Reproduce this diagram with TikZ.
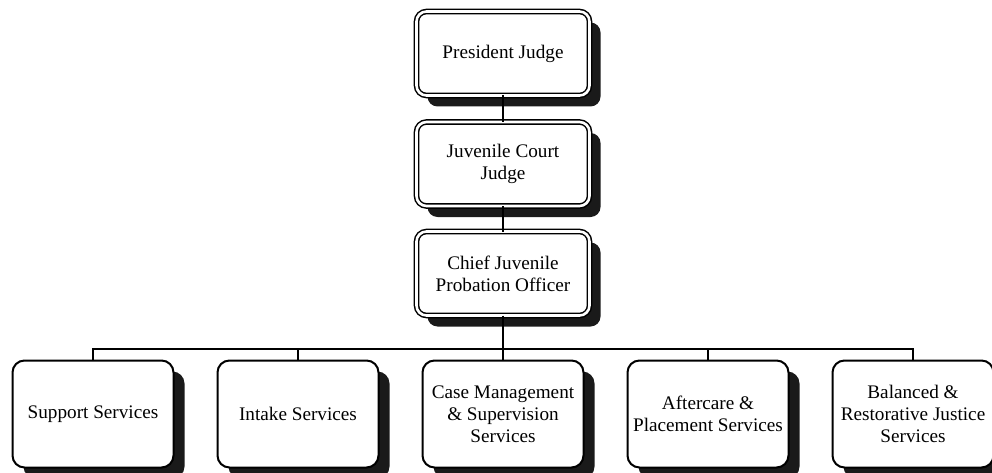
\documentclass[tikz,border=0pt]{standalone}
\usepackage{fontspec}
\setmainfont{Liberation Serif}
\usetikzlibrary{shadows}
\definecolor{shade}{HTML}{1A1A1A}
\begin{document}
\begin{tikzpicture}[x=1pt,y=-1pt,
  every node/.style={font=\fontsize{19.2}{22}\selectfont, align=center, inner sep=0pt, outer sep=0pt},
  boxshadow/.style={drop shadow={shadow xshift=11pt, shadow yshift=-11pt, fill=shade, opacity=1}},
  headbox/.style={draw=black, fill=white, double=white, line width=1.5pt, double distance=2.6pt,
    rounded corners=10pt, minimum width=173pt, minimum height=84pt, boxshadow},
  unitbox/.style={draw=black, fill=white, line width=2pt,
    rounded corners=12pt, minimum width=161pt, minimum height=107pt, boxshadow},
  link/.style={draw=black, line width=2pt}]
\useasboundingbox (0,0) rectangle (992,473);

% chain of command
\node[headbox] (pj)    at (503,53.5)  {President Judge};
\node[headbox] (jcj)   at (503,164)   {Juvenile Court\\Judge};
\node[headbox] (chief) at (503,273.5) {Chief Juvenile\\Probation Officer};

% service units
\node[unitbox] (sup)  at (93,414)  {Support Services};
\node[unitbox] (int)  at (298,414) {Intake Services};
\node[unitbox] (case) at (503,414) {Case Management\\\& Supervision\\Services};
\node[unitbox] (aft)  at (708,414) {Aftercare \&\\Placement Services};
\node[unitbox] (brj)  at (913,414) {Balanced \&\\Restorative Justice\\Services};

% connectors
\coordinate (bus) at (503,349);
\path[link] (pj.south) -- (jcj.north);
\path[link] (jcj.south) -- (chief.north);
\path[link] (chief.south) -- (bus);
\path[link] (sup.north) |- (bus) -| (brj.north);
\path[link] (int.north) -- (int.north |- bus);
\path[link] (case.north) -- (bus);
\path[link] (aft.north) -- (aft.north |- bus);
\end{tikzpicture}
\end{document}
